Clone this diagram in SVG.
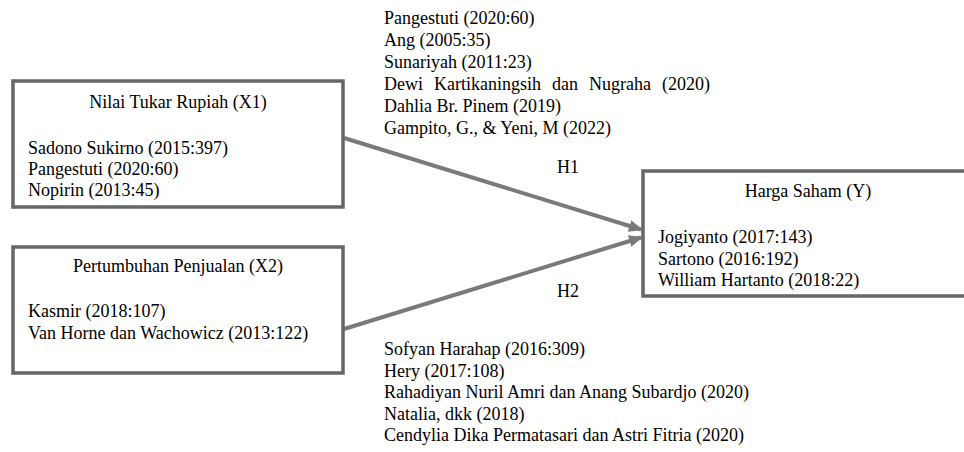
<svg xmlns="http://www.w3.org/2000/svg" width="964" height="452" viewBox="0 0 964 452">
<defs>
<style>
.box{fill:#fff;stroke:#666;stroke-width:3.5}
.t{font-family:"Liberation Serif","Times New Roman",serif;font-size:18px;fill:#000}
.c{text-anchor:middle}
.edge{stroke:#7a7a7a;stroke-width:4;fill:none}
</style>
<marker id="ah" markerUnits="userSpaceOnUse" markerWidth="14" markerHeight="12" refX="12" refY="6" orient="auto">
<path d="M0,0 L14,6 L0,12 z" fill="#7a7a7a"/>
</marker>
</defs>
<rect width="964" height="452" fill="#fff"/>
<g id="connectors">
<line class="edge" x1="344" y1="138" x2="641" y2="229.5" marker-end="url(#ah)"/>
<line class="edge" x1="344" y1="329" x2="641" y2="237.5" marker-end="url(#ah)"/>
</g>
<g id="x1">
<rect class="box" x="13" y="81" width="330" height="126"/>
<text class="t c" x="178" y="108">Nilai Tukar Rupiah (X1)</text>
<text class="t" x="28" y="154">Sadono Sukirno (2015:397)</text>
<text class="t" x="28" y="175">Pangestuti (2020:60)</text>
<text class="t" x="28" y="196">Nopirin (2013:45)</text>
</g>
<g id="x2">
<rect class="box" x="13" y="247" width="330" height="126"/>
<text class="t c" x="178" y="272">Pertumbuhan Penjualan (X2)</text>
<text class="t" x="28" y="317">Kasmir (2018:107)</text>
<text class="t" x="28" y="339">Van Horne dan Wachowicz (2013:122)</text>
</g>
<g id="y">
<rect class="box" x="643" y="171" width="330" height="125"/>
<text class="t c" x="808" y="197">Harga Saham (Y)</text>
<text class="t" x="658" y="243">Jogiyanto (2017:143)</text>
<text class="t" x="658" y="265">Sartono (2016:192)</text>
<text class="t" x="658" y="286">William Hartanto (2018:22)</text>
</g>
<g id="h1-refs">
<text class="t" x="384" y="24">Pangestuti (2020:60)</text>
<text class="t" x="384" y="46">Ang (2005:35)</text>
<text class="t" x="384" y="68">Sunariyah (2011:23)</text>
<text class="t" x="384" y="90" word-spacing="6.5">Dewi Kartikaningsih dan Nugraha (2020)</text>
<text class="t" x="384" y="112">Dahlia Br. Pinem (2019)</text>
<text class="t" x="384" y="134">Gampito, G., &amp; Yeni, M (2022)</text>
</g>
<g id="h1-label"><text class="t" x="557" y="173">H1</text></g>
<g id="h2-label"><text class="t" x="557" y="297">H2</text></g>
<g id="h2-refs">
<text class="t" x="384" y="355">Sofyan Harahap (2016:309)</text>
<text class="t" x="384" y="377">Hery (2017:108)</text>
<text class="t" x="384" y="398">Rahadiyan Nuril Amri dan Anang Subardjo (2020)</text>
<text class="t" x="384" y="420">Natalia, dkk (2018)</text>
<text class="t" x="384" y="441">Cendylia Dika Permatasari dan Astri Fitria (2020)</text>
</g>
</svg>
